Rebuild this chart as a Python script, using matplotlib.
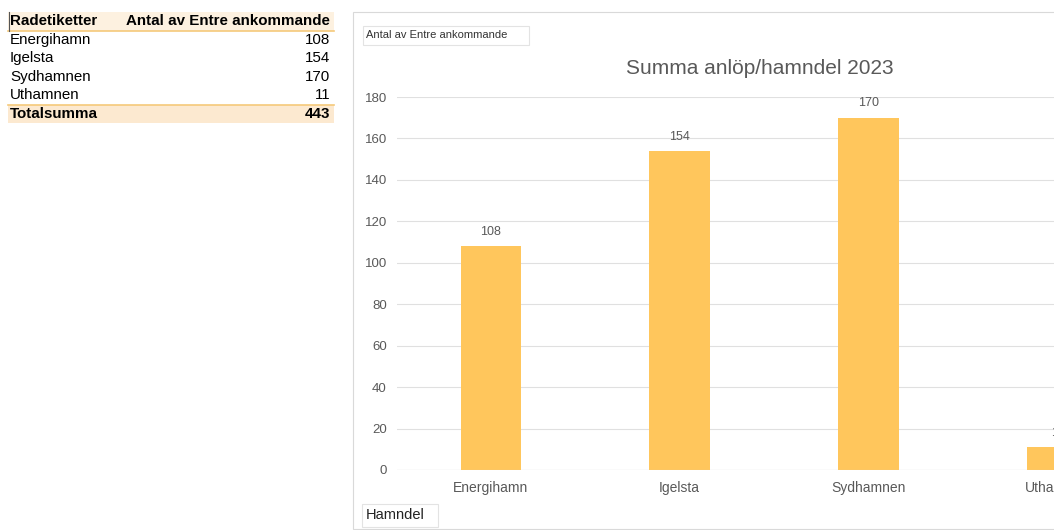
import matplotlib.pyplot as plt
from matplotlib.patches import Rectangle

hamndelar = ["Energihamn", "Igelsta", "Sydhamnen", "Uthamnen"]
antal = [108, 154, 170, 11]
yticks = [0, 20, 40, 60, 80, 100, 120, 140, 160, 180]

W, H = 1054, 530
fig = plt.figure(figsize=(W / 100, H / 100), dpi=100)
plt.rcParams['font.family'] = ['Liberation Sans', 'DejaVu Sans']

def fx(px):
    return px / W

def fy(py):
    return 1 - py / H

# --- pivottabell till vänster ---
rad_h = 18.5
top = 12
fig.patches.append(Rectangle((fx(8), fy(top + rad_h)), fx(326), rad_h / H,
                             transform=fig.transFigure, facecolor="#FDF1E0", edgecolor="none"))
fig.patches.append(Rectangle((fx(8), fy(top + rad_h * 6)), fx(326), rad_h / H,
                             transform=fig.transFigure, facecolor="#FCE9D0", edgecolor="none"))
fig.add_artist(plt.Line2D([fx(8), fx(334)], [fy(top + rad_h)] * 2, color="#F5C97A", lw=1.2))
fig.add_artist(plt.Line2D([fx(8), fx(334)], [fy(top + rad_h * 5)] * 2, color="#F5C97A", lw=1.2))
fig.add_artist(plt.Line2D([fx(8.5), fx(8.5)], [fy(top), fy(top + rad_h)], color="#555555", lw=0.8))

fs = 10.9
fig.text(fx(10), fy(top + rad_h / 2), "Radetiketter", fontsize=fs, fontweight="bold", va="center")
fig.text(fx(330), fy(top + rad_h / 2), "Antal av Entre ankommande", fontsize=fs,
         fontweight="bold", va="center", ha="right")
for i, (namn, v) in enumerate(zip(hamndelar, antal)):
    yc = fy(top + rad_h * (i + 1.5))
    fig.text(fx(10), yc, namn, fontsize=fs, va="center")
    fig.text(fx(330), yc, str(v), fontsize=fs, va="center", ha="right")
fig.text(fx(10), fy(top + rad_h * 5.5), "Totalsumma", fontsize=fs, fontweight="bold", va="center")
fig.text(fx(330), fy(top + rad_h * 5.5), str(sum(antal)), fontsize=fs, fontweight="bold",
         va="center", ha="right")

# --- diagramram ---
fig.patches.append(Rectangle((fx(353), fy(529)), fx(760), (529 - 12) / H,
                             transform=fig.transFigure, facecolor="white",
                             edgecolor="#D9D9D9", lw=0.8, zorder=-1))

# fältknappar
fig.patches.append(Rectangle((fx(363), fy(45)), fx(166), 19 / H, transform=fig.transFigure,
                             facecolor="white", edgecolor="#E3E3E3", lw=0.8))
fig.text(fx(366), fy(35.5), "Antal av Entre ankommande", fontsize=8, va="center", color="#333333")
fig.patches.append(Rectangle((fx(362), fy(527)), fx(76), 23 / H, transform=fig.transFigure,
                             facecolor="white", edgecolor="#E3E3E3", lw=0.8))
fig.text(fx(366), fy(515), "Hamndel", fontsize=10.5, va="center", color="#222222")

fig.text(fx(760), fy(68), "Summa anlöp/hamndel 2023", fontsize=15, ha="center", va="center",
         color="#595959")

# --- stapeldiagram ---
ax = fig.add_axes([fx(396.5), fy(470), fx(755), (470 - 97) / H])
x = range(len(hamndelar))
staplar = ax.bar(x, antal, width=0.32, color="#FFC65C", zorder=3)
for s, v in zip(staplar, antal):
    ax.text(s.get_x() + s.get_width() / 2, v + 4, str(v), ha="center", va="bottom",
            fontsize=9, color="#595959")

ax.set_xlim(-0.5, len(hamndelar) - 0.5)
ax.set_ylim(0, 180)
ax.set_yticks(yticks)
ax.set_xticks(list(x))
ax.set_xticklabels(hamndelar)
ax.grid(axis="y", color="#E0E0E0", lw=0.8, zorder=0)
for sp in ax.spines.values():
    sp.set_visible(False)
ax.axhline(0, color="#D0D0D0", lw=0.8, zorder=4)
ax.tick_params(axis="both", length=0, labelcolor="#595959")
ax.tick_params(axis="y", pad=7, labelsize=9.5)
ax.tick_params(axis="x", pad=8, labelsize=10)
ax.patch.set_alpha(0)

fig.savefig("out.png", dpi=100)
